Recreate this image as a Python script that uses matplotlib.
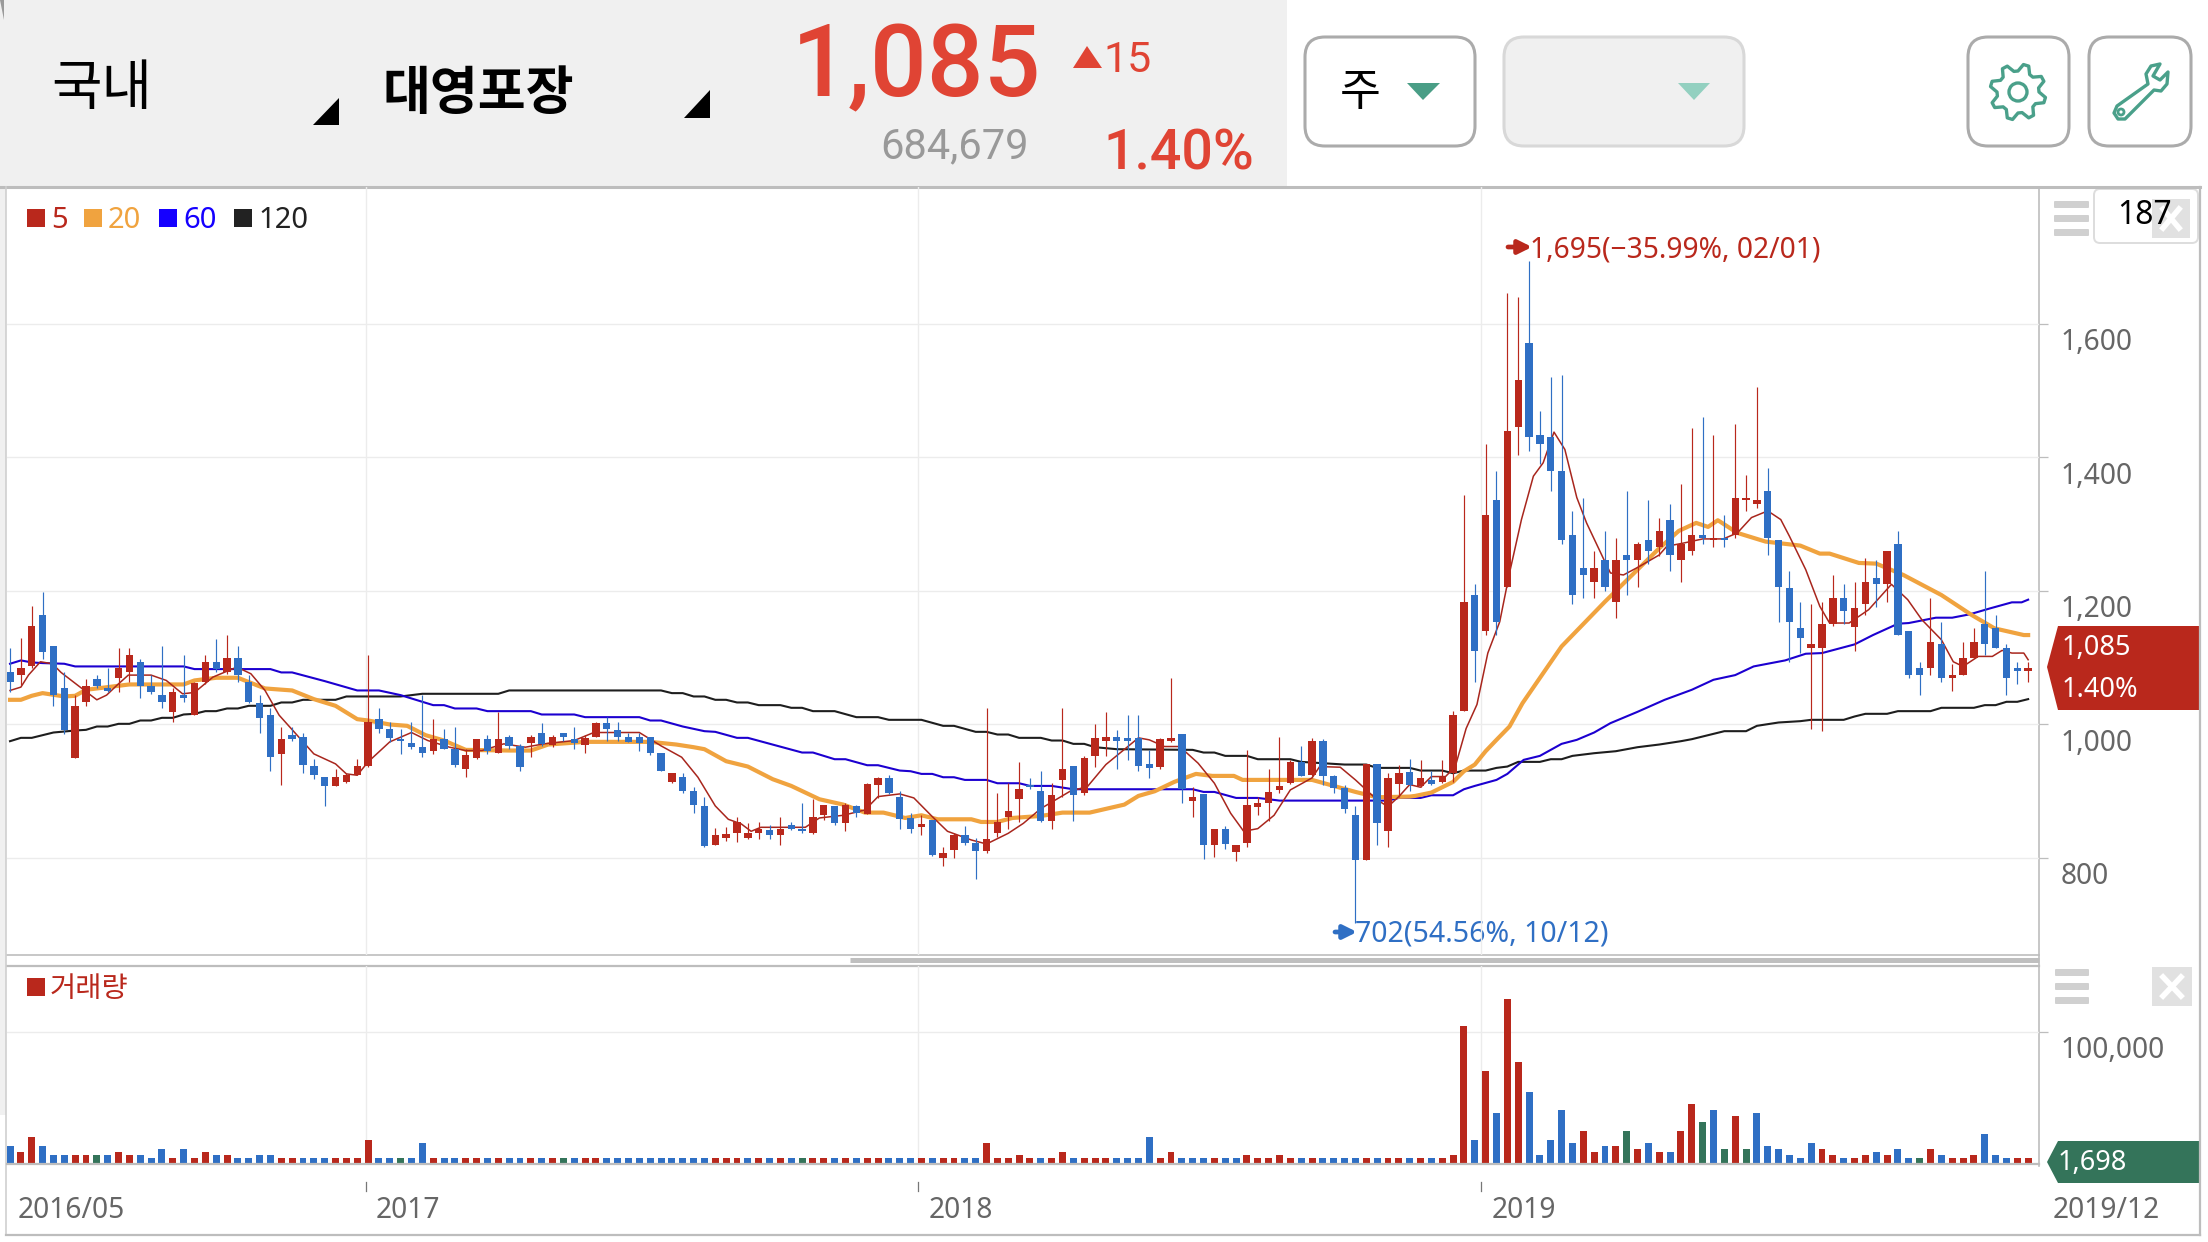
"""
Weekly candle chart screen for 대영포장, with volume panel.
"""
import matplotlib
matplotlib.use("Agg")
import matplotlib.pyplot as plt
import matplotlib.patches as mpatches
from matplotlib.transforms import ScaledTranslation
import numpy as np

plt.rcParams["font.family"] = ["Noto Sans", "Noto Sans CJK KR", "DejaVu Sans"]

# weekly candles
opens = [
    1078, 1074, 1088, 1164, 1118, 1054, 950, 1034, 1068, 1054,
    1070, 1078, 1093, 1058, 1044, 1018, 1044, 1014, 1064, 1093,
    1078, 1099, 1064, 1032, 1014, 956, 984, 982, 938, 922,
    908, 914, 924, 938, 1008, 994, 978, 973, 967, 961,
    978, 964, 934, 950, 978, 958, 981, 968, 973, 987,
    970, 987, 978, 970, 982, 1002, 992, 982, 982, 982,
    958, 914, 922, 900, 878, 820, 830, 837, 830, 838,
    842, 834, 850, 844, 838, 864, 878, 852, 878, 866,
    910, 920, 892, 860, 847, 857, 800, 812, 834, 822,
    810, 838, 862, 888, 910, 900, 856, 917, 938, 898,
    953, 976, 982, 980, 980, 941, 936, 976, 986, 886,
    896, 820, 844, 809, 822, 877, 883, 902, 912, 944,
    924, 976, 923, 905, 864, 797, 941, 840, 911, 929,
    908, 917, 914, 928, 1020, 1194, 1140, 1336, 1206, 1446,
    1571, 1434, 1430, 1380, 1284, 1234, 1214, 1246, 1184, 1254,
    1246, 1276, 1266, 1306, 1246, 1260, 1284, 1277, 1280, 1284,
    1336, 1330, 1350, 1276, 1204, 1144, 1114, 1114, 1150, 1190,
    1146, 1180, 1220, 1210, 1270, 1140, 1084, 1084, 1120, 1070,
    1074, 1100, 1150, 1144, 1114, 1084, 1080,
]
closes = [
    1064, 1084, 1148, 1108, 1044, 992, 1028, 1058, 1058, 1050,
    1084, 1104, 1058, 1048, 1034, 1048, 1040, 1062, 1093, 1083,
    1100, 1074, 1034, 1010, 951, 978, 978, 940, 924, 908,
    922, 925, 938, 1004, 993, 980, 975, 966, 958, 978,
    964, 940, 954, 978, 961, 978, 968, 936, 982, 971,
    982, 982, 972, 980, 1002, 993, 982, 974, 972, 958,
    931, 928, 900, 880, 818, 834, 836, 854, 837, 844,
    834, 844, 844, 840, 862, 880, 852, 880, 868, 911,
    920, 898, 858, 844, 851, 804, 807, 834, 822, 810,
    828, 854, 870, 904, 906, 856, 894, 933, 894, 950,
    980, 982, 976, 976, 938, 935, 978, 980, 904, 891,
    820, 844, 821, 820, 880, 883, 899, 908, 944, 923,
    976, 923, 905, 874, 797, 941, 852, 920, 927, 910,
    920, 911, 921, 1014, 1184, 1110, 1314, 1154, 1440, 1516,
    1430, 1420, 1380, 1276, 1194, 1224, 1234, 1206, 1246, 1246,
    1270, 1260, 1290, 1254, 1270, 1284, 1280, 1280, 1276, 1340,
    1340, 1336, 1280, 1206, 1154, 1130, 1120, 1150, 1190, 1170,
    1174, 1214, 1210, 1260, 1134, 1074, 1074, 1124, 1070, 1074,
    1100, 1124, 1120, 1114, 1070, 1080, 1085,
]
highs = [
    1114, 1129, 1178, 1198, 1118, 1078, 1044, 1068, 1074, 1084,
    1114, 1114, 1098, 1074, 1118, 1054, 1104, 1064, 1104, 1128,
    1134, 1118, 1074, 1044, 1024, 996, 996, 988, 948, 922,
    934, 928, 948, 1104, 1024, 1004, 994, 1004, 1044, 1008,
    994, 996, 964, 979, 984, 1018, 984, 971, 985, 1002,
    984, 988, 996, 984, 1004, 1011, 1004, 988, 988, 982,
    958, 928, 928, 906, 892, 845, 846, 861, 852, 854,
    850, 862, 854, 882, 888, 880, 878, 882, 880, 912,
    922, 924, 900, 867, 864, 857, 816, 837, 848, 830,
    1024, 898, 912, 944, 920, 930, 912, 1024, 938, 953,
    1000, 1018, 992, 1014, 1014, 962, 980, 1070, 986, 906,
    896, 844, 848, 820, 962, 892, 933, 982, 947, 968,
    980, 978, 924, 910, 878, 941, 941, 927, 940, 948,
    947, 930, 947, 1020, 1344, 1210, 1420, 1380, 1646, 1640,
    1695, 1470, 1520, 1524, 1320, 1340, 1260, 1290, 1280, 1350,
    1274, 1336, 1310, 1330, 1360, 1444, 1460, 1434, 1314, 1450,
    1374, 1505, 1384, 1276, 1230, 1184, 1180, 1184, 1224, 1210,
    1214, 1250, 1246, 1260, 1290, 1140, 1094, 1190, 1154, 1090,
    1124, 1144, 1230, 1164, 1120, 1094, 1094,
]
lows = [
    1048, 1059, 1084, 1098, 1028, 986, 950, 1028, 1054, 1048,
    1048, 1064, 1040, 1046, 1024, 1004, 1034, 1014, 1061, 1078,
    1076, 1064, 1032, 988, 931, 910, 976, 928, 918, 878,
    908, 912, 924, 936, 988, 974, 956, 964, 952, 956,
    964, 936, 922, 948, 956, 958, 964, 931, 952, 968,
    966, 976, 964, 958, 981, 976, 976, 974, 961, 954,
    931, 912, 898, 867, 816, 820, 826, 824, 828, 828,
    828, 820, 842, 838, 836, 857, 850, 840, 862, 866,
    890, 896, 844, 838, 834, 803, 788, 800, 820, 768,
    807, 832, 844, 854, 904, 854, 844, 892, 856, 894,
    937, 953, 933, 947, 930, 920, 934, 974, 882, 862,
    798, 802, 814, 796, 817, 864, 856, 898, 911, 923,
    923, 910, 898, 867, 702, 797, 820, 817, 892, 900,
    907, 910, 913, 914, 1020, 1064, 1134, 1134, 1206, 1404,
    1410, 1390, 1350, 1270, 1180, 1190, 1190, 1200, 1160, 1194,
    1206, 1240, 1252, 1230, 1214, 1254, 1270, 1266, 1266, 1280,
    1320, 1324, 1254, 1154, 1094, 1107, 994, 990, 1147, 1150,
    1110, 1164, 1176, 1184, 1134, 1070, 1044, 1074, 1064, 1050,
    1074, 1100, 1104, 1114, 1044, 1060, 1064,
]

# moving averages, read at the points where the line bends
ma5_idx = [
    0, 1, 1.7, 2.8, 3.9, 4.7, 6.3, 8, 8.9, 9.8, 10.9, 13, 14.4, 15.9, 17, 18.7, 20.9, 22.2,
    23.5, 24.8, 27, 28, 30, 31, 32, 33, 35, 37, 38.5, 40.5, 42, 43.5, 45.5, 47.5, 49.2, 52,
    53.8, 58, 60, 61.9, 63.4, 65, 66.2, 67.4, 68.3, 69.2, 73.3, 74.6, 76.8, 78.8, 80, 82,
    83.3, 85, 86.4, 88.6, 90, 92, 93.4, 95, 97.7, 99.3, 101, 102.5, 104, 105, 106.4, 107.8,
    109.5, 111, 112.5, 113.7, 115, 116.5, 118, 120, 120.7, 122.6, 124, 126, 127, 128, 129,
    130, 131, 132.3, 133.2, 134.2, 135.2, 136.2, 137.3, 138.2, 139.3, 140.4, 141.3, 142.3,
    143.3, 144.4, 145.3, 146.9, 147.5, 148.7, 150.2, 152, 152.7, 154.3, 156, 157.9, 159.2,
    160.5, 162, 163.2, 164, 165.5, 166.8, 167.7, 169.5, 171.3, 173.4, 174.9, 176.2, 178,
    179.1, 180, 181.4, 182.7, 183.6, 184.5, 185.6, 186,
]
ma5 = [
    1051, 1056, 1074, 1094, 1091, 1078, 1058, 1037, 1044, 1058, 1074, 1074, 1066, 1046, 1048, 1071, 1086, 1076,
    1051, 1014, 974, 956, 941, 926, 924, 944, 974, 988, 976, 966, 961, 961, 971, 966, 971, 976,
    988, 988, 968, 951, 921, 878, 858, 851, 840, 846, 846, 860, 864, 872, 892, 896,
    890, 862, 840, 827, 821, 837, 852, 874, 900, 907, 940, 960, 980, 977, 967, 967,
    942, 912, 867, 840, 844, 864, 902, 920, 937, 936, 917, 887, 877, 892, 910,
    906, 922, 922, 937, 994, 1030, 1107, 1154, 1227, 1307, 1372, 1392, 1438,
    1412, 1340, 1302, 1247, 1227, 1224, 1237, 1254, 1267, 1272, 1278, 1278, 1287,
    1310, 1320, 1307, 1282, 1232, 1177, 1152, 1152, 1172, 1210, 1187, 1157, 1127,
    1094, 1087, 1102, 1102, 1111, 1107, 1107, 1097,
]
ma20_idx = [
    0, 1, 2, 3, 5, 6, 7, 9, 11, 16, 17, 19, 21, 23.5, 26, 28, 30, 32, 33, 35, 36.6, 38.3, 40,
    42, 46, 48, 49.6, 53, 59, 61.4, 63, 64, 66, 68, 70.3, 72, 74.6, 76.8, 78.8, 80.5, 82.5,
    84, 85.5, 88.6, 89.5, 91, 92.4, 95, 97, 99.5, 102.7, 104, 105.5, 107.3, 109.3, 110.8,
    112.8, 113.6, 120, 122, 124, 126, 129, 129.5, 131, 133, 134, 135, 136, 137, 138.2, 139.4,
    143, 147, 152, 153.8, 155.4, 156.5, 157.4, 159.2, 161.8, 165, 166.8, 167.7, 170.4, 172,
    174.5, 178, 180.8, 182.9, 185.6, 186,
]
ma20 = [
    1037, 1037, 1043, 1047, 1042, 1043, 1052, 1056, 1060, 1060, 1066, 1070, 1070, 1054, 1051, 1038, 1028, 1008, 1006, 1000, 998, 984, 976,
    962, 961, 961, 970, 974, 974, 970, 966, 963, 945, 937, 918, 908, 888, 880, 868, 868, 860,
    864, 858, 858, 854, 854, 860, 863, 868, 868, 880, 893, 900, 914, 926, 923,
    923, 917, 917, 908, 899, 891, 892, 893, 898, 914, 930, 940, 960, 977, 997, 1032,
    1117, 1184, 1264, 1290, 1302, 1296, 1306, 1287, 1274, 1268, 1256, 1256, 1242, 1241,
    1224, 1194, 1164, 1144, 1134, 1134,
]
ma60_idx = [
    0, 1, 2, 3, 5, 6, 16, 17, 24, 25, 26, 29, 32, 34, 36, 38, 39, 40, 41, 43, 44, 48, 49, 52,
    53, 58, 59, 60, 62, 64, 65, 67, 68, 73, 74, 76, 77, 79, 80, 82, 83, 84, 85, 86, 87, 88,
    90, 91, 93, 94, 96, 98, 109, 110, 111, 113, 115, 117, 127, 128, 130, 131, 133, 134, 135,
    137, 138, 139.5, 141, 143, 144.4, 146, 147.5, 150, 152.5, 155, 157, 159, 160.7, 163.6,
    165.5, 167, 170, 171.7, 174, 175, 177.5, 179, 180.6, 182.5, 184.5, 185.4, 186,
]
ma60 = [
    1091, 1096, 1093, 1092, 1091, 1087, 1087, 1083, 1083, 1078, 1078, 1065, 1051, 1051, 1044, 1034, 1029, 1029, 1024, 1024, 1020, 1020, 1015, 1015,
    1011, 1011, 1006, 1006, 997, 990, 989, 980, 980, 958, 958, 948, 948, 939, 939, 931, 930, 926, 926, 921, 921, 917,
    917, 912, 912, 908, 908, 903, 903, 899, 899, 890, 890, 886, 886, 890, 890, 894, 894, 903, 908,
    917, 926, 947, 953, 971, 977, 988, 1002, 1019, 1037, 1052, 1067, 1074, 1087, 1096,
    1106, 1107, 1120, 1134, 1151, 1152, 1160, 1160, 1165, 1174, 1183, 1183, 1187,
]
ma120_idx = [
    0, 1, 2, 4, 6, 7, 8, 9, 10, 11, 12, 13, 14, 15, 16, 17, 18, 19, 20, 21, 22, 24, 25, 26, 27, 30,
    31, 36, 37, 38, 45, 46, 60, 61, 62, 63, 64, 65, 66, 67, 68, 69, 71, 72, 73, 74, 76, 78, 80, 81,
    84, 86, 87, 89, 90, 91, 92, 93, 95, 96, 97, 98, 99, 100, 102, 109, 110, 111, 112, 114, 115, 118,
    119, 123, 125, 126, 129, 130, 132, 133, 134, 136, 137, 138, 139, 141, 142, 143, 144, 146, 148,
    150, 152, 154, 155, 158, 160, 161, 163, 165, 166, 169, 170, 171, 173, 174, 177, 178, 181, 182,
    183, 184, 185, 186,
]
ma120 = [
    975, 980, 980, 988, 991, 992, 997, 997, 1001, 1001, 1006, 1006, 1010, 1010, 1015, 1016, 1020, 1020, 1024, 1024, 1028, 1028, 1033, 1033, 1037, 1037,
    1042, 1042, 1044, 1046, 1046, 1051, 1051, 1047, 1047, 1042, 1042, 1037, 1037, 1033, 1033, 1029, 1029, 1025, 1025, 1020, 1020, 1011, 1011, 1007,
    1007, 998, 998, 989, 989, 985, 985, 980, 980, 976, 976, 971, 971, 966, 963, 962, 958, 958, 953, 953, 948, 948,
    944, 940, 940, 935, 935, 931, 931, 927, 931, 931, 935, 937, 944, 944, 948, 948, 953, 957, 960,
    966, 970, 975, 978, 990, 990, 998, 1003, 1005, 1007, 1007, 1012, 1016, 1016, 1020, 1020, 1025, 1025, 1029,
    1029, 1034, 1034, 1038,
]

volumes = [
    13600, 9100, 20500, 13600, 6800, 6800, 6800, 6800, 6800, 6800,
    9100, 6800, 6800, 4500, 11400, 4500, 11400, 4500, 9100, 6800,
    6800, 4500, 4500, 6800, 6800, 4500, 4500, 4500, 4500, 4500,
    4500, 4500, 4500, 18200, 4500, 4500, 4500, 4500, 15900, 4500,
    4500, 4500, 4500, 4500, 4500, 4500, 4500, 4500, 4500, 4500,
    4500, 4500, 4500, 4500, 4500, 4500, 4500, 4500, 4500, 4500,
    4500, 4500, 4500, 4500, 4500, 4500, 4500, 4500, 4500, 4500,
    4500, 4500, 4500, 4500, 4500, 4500, 4500, 4500, 4500, 4500,
    4500, 4500, 4500, 4500, 4500, 4500, 4500, 4500, 4500, 4500,
    15900, 4500, 4500, 6800, 4500, 4500, 4500, 9100, 4500, 4500,
    4500, 4500, 4500, 4500, 4500, 20500, 4500, 9100, 4500, 4500,
    4500, 4500, 4500, 4500, 6800, 4500, 4500, 6800, 4500, 4500,
    4500, 4500, 4500, 4500, 4500, 4500, 4500, 4500, 4500, 4500,
    4500, 4500, 4500, 6800, 104500, 18200, 70500, 38600, 125000, 77300,
    54500, 6800, 18200, 40900, 15900, 25000, 9100, 13600, 13600, 25000,
    11400, 15900, 9100, 9100, 25000, 45500, 31800, 40900, 11400, 36400,
    11400, 38600, 13600, 11400, 6800, 4500, 15900, 11400, 6800, 4500,
    4500, 6800, 9100, 6800, 11400, 4500, 4500, 11400, 6800, 4500,
    4500, 6800, 22700, 6800, 4500, 4500, 4500,
]
# r up, b down, g the odd dark green bars
volume_kinds = (
    "brrbbbrrgb" "rrbbbrbrrb" "rbbbbrrbbb" "rrrrbbgbbr" "bbrrbrbbrb"
    "rgbrrbbbbb" "bbbbbrrrbr" "brbgrrbrbr" "rbbbrbrrbb" "rrrrrbrrbr"
    "rrbbbbrrbb" "brbbrrrrrb" "rbbbbrbrrb" "rbrrrbrbrr" "bbbbbrrbrg"
    "rbrbrrgbgr" "gbbbbbbrrb" "rrbrbbgrbr" "rrbbbrr"
)

price_ticks = [800, 1000, 1200, 1400, 1600]
volume_ticks = [100000]
year_pos = [32.8, 83.7, 135.6]
year_labels = ["2017", "2018", "2019"]

RED = "#b9281c"
BLUE = "#2f6fc4"
GREEN = "#34745a"
HEAD_RED = "#e04434"
TEAL = "#4aa08a"
GRID = "#ececec"
LINE = "#bdbdbd"
TEXT = "#666666"
KR = ["Noto Sans CJK KR", "DejaVu Sans"]


def px_axes(fig, left, top, right, bottom):
    W, H = fig.get_size_inches() * fig.dpi
    return fig.add_axes([left / W, 1 - bottom / H, (right - left) / W, (bottom - top) / H])


def button(ax, x0, y0, x1, y1, face, edge):
    ax.add_patch(mpatches.FancyBboxPatch(
        (x0 + 20, y0 + 20), x1 - x0 - 40, y1 - y0 - 40,
        boxstyle="round,pad=20,rounding_size=20",
        facecolor=face, edgecolor=edge, linewidth=2.2))


def tri(ax, pts, color):
    ax.add_patch(mpatches.Polygon(pts, closed=True, facecolor=color, edgecolor="none"))


def hamburger(ax, x0, x1, ys):
    for y in ys:
        ax.add_patch(mpatches.FancyBboxPatch(
            (x0 + 1, y + 1), x1 - x0 - 2, 5, boxstyle="round,pad=1",
            facecolor="#d0d0d0", edgecolor="none"))


def close_box(ax, x0, y0, x1, y1):
    ax.add_patch(mpatches.Rectangle((x0, y0), x1 - x0, y1 - y0, facecolor="#dcdcdc",
                                    edgecolor="none", alpha=0.85))
    ax.plot([x0 + 11, x1 - 11], [y0 + 10, y1 - 10], color="white", lw=4)
    ax.plot([x0 + 11, x1 - 11], [y1 - 10, y0 + 10], color="white", lw=4)


def draw_gear(ax, cx, cy):
    teeth = 8
    ang = np.linspace(0, 2 * np.pi, teeth * 4, endpoint=False) + np.pi / 8 - np.pi / 16
    rad = np.tile([28, 28, 21, 21], teeth)
    ax.fill(cx + rad * np.cos(ang), cy + rad * np.sin(ang), facecolor="white",
            edgecolor=TEAL, linewidth=2.4, joinstyle="round")
    ax.add_patch(mpatches.Circle((cx, cy), 9, facecolor="white", edgecolor=TEAL, linewidth=2.4))


def draw_wrench(ax):
    pts = [(2160, 64), (2151, 66), (2146, 74), (2148, 84), (2117, 106), (2114, 113),
           (2118, 119), (2125, 119), (2131, 113), (2154, 90), (2161, 91), (2167, 84),
           (2168, 72), (2160, 80), (2153, 76)]
    ax.add_patch(mpatches.Polygon(pts, closed=True, facecolor="white", edgecolor=TEAL,
                                  linewidth=2.4, joinstyle="round"))
    ax.add_patch(mpatches.Circle((2121, 112), 3, facecolor="white", edgecolor=TEAL, linewidth=2))


def draw_screen(ui):
    # header
    ui.add_patch(mpatches.Rectangle((0, 0), 1287, 187, facecolor="#f0f0f0", edgecolor="none"))
    ui.add_patch(mpatches.Rectangle((0, 187), 6, 928, facecolor="#f0f0f0", edgecolor="none"))
    tri(ui, [(0, 0), (4, 0), (4, 20)], "#9a9a9a")
    ui.text(51, 89, "국내", fontsize=39.5, color="black", va="center", family=KR)
    ui.text(383, 93, "대영포장", fontsize=37.5, color="black", va="center", fontweight="bold", family=KR)
    tri(ui, [(339, 98), (339, 125), (313, 125)], "black")
    tri(ui, [(710, 90), (710, 118), (684, 118)], "black")
    ui.text(792, 96, "1,085", fontsize=72, color=HEAD_RED, va="baseline", family="Roboto",
            fontweight="medium")
    tri(ui, [(1087, 46), (1102, 68), (1073, 68)], HEAD_RED)
    ui.text(1103, 72, "15", fontsize=31, color=HEAD_RED, va="baseline", family="Roboto")
    ui.text(880, 158, "684,679", fontsize=30, color="#999999", va="baseline", family="Roboto")
    ui.text(1103, 169, "1.40%", fontsize=40, color=HEAD_RED, va="baseline", family="Roboto",
            fontweight="medium")

    # buttons
    button(ui, 1305, 37, 1475, 146, "white", "#ababab")
    ui.text(1360, 92, "주", fontsize=32, color="black", ha="center", va="center", family=KR)
    tri(ui, [(1407, 83), (1440, 83), (1423, 100)], "#4a9e86")
    button(ui, 1504, 37, 1744, 146, "#f0f0f0", "#d8d8d8")
    tri(ui, [(1678, 83), (1710, 83), (1694, 100)], "#93d0c0")
    button(ui, 1968, 37, 2069, 146, "white", "#ababab")
    button(ui, 2089, 37, 2191, 146, "white", "#ababab")
    draw_gear(ui, 2018, 92)
    draw_wrench(ui)

    # frame lines
    ui.plot([0, 2200], [187, 187], color=LINE, lw=2.2)
    ui.plot([7, 2039], [955, 955], color=LINE, lw=1.2)
    ui.plot([7, 2039], [966, 966], color=LINE, lw=1.6)
    ui.plot([850, 2039], [959.5, 959.5], color="#bfbfbf", lw=3.6, solid_capstyle="butt")
    ui.plot([2039, 2039], [187, 1166], color=LINE, lw=1.2)
    ui.plot([2200, 2200], [187, 1235], color=LINE, lw=1.6)
    ui.plot([6, 6], [187, 1235], color="#cfcfcf", lw=1.2)
    ui.plot([6, 2200], [1235, 1235], color=LINE, lw=1.6)

    # side widgets, main panel
    hamburger(ui, 2054, 2089, [201, 215, 229])
    ui.add_patch(mpatches.FancyBboxPatch((2100, 195), 92, 42, boxstyle="round,pad=6",
                                         facecolor="white", edgecolor="#dddddd", linewidth=1.4))
    close_box(ui, 2152, 199, 2190, 238)
    ui.text(2145, 216, "187", fontsize=23, color="black", ha="center", va="center")

    # side widgets, volume panel
    hamburger(ui, 2055, 2089, [969, 983, 997])
    close_box(ui, 2152, 967, 2192, 1006)

    # price and volume tags
    tri(ui, [(2047, 667), (2058, 626), (2200, 626), (2200, 710), (2058, 710)], RED)
    ui.text(2062, 648, "1,085", fontsize=19.5, color="white", va="center")
    ui.text(2062, 690, "1.40%", fontsize=19.5, color="white", va="center")
    tri(ui, [(2047, 1162), (2058, 1141), (2200, 1141), (2200, 1183), (2058, 1183)], GREEN)
    ui.text(2058, 1163, "1,698", fontsize=19.5, color="white", va="center")

    # legends
    legend = [(27, 51, "5", RED), (84, 108, "20", "#f0a33f"), (159, 183, "60", "#1500ff"), (234, 258, "120", "#222222")]
    for sx, tx, label, color in legend:
        ui.add_patch(mpatches.Rectangle((sx, 209), 18, 18, facecolor=color, edgecolor="none"))
        ui.text(tx, 220, label, fontsize=21, color=color, va="center")
    ui.add_patch(mpatches.Rectangle((27, 978), 18, 18, facecolor=RED, edgecolor="none"))
    ui.text(50, 989, "거래량", fontsize=20.5, color=RED, va="center", family=KR)

    # date ends
    ui.text(18, 1210, "2016/05", fontsize=20.3, color=TEXT, va="center")
    ui.text(2053, 1210, "2019/12", fontsize=20.3, color=TEXT, va="center")

    # high and low notes
    ui.annotate("", xy=(1532, 247), xytext=(1508, 247),
                arrowprops=dict(arrowstyle="-|>", color=RED, lw=3.4, mutation_scale=20, shrinkA=0, shrinkB=0))
    ui.text(1530, 250, "1,695(\u221235.99%, 02/01)", fontsize=20.3, color=RED, va="center")
    ui.annotate("", xy=(1357, 932), xytext=(1335, 932),
                arrowprops=dict(arrowstyle="-|>", color=BLUE, lw=3.4, mutation_scale=20, shrinkA=0, shrinkB=0))
    ui.text(1355, 934, "702(54.56%, 10/12)", fontsize=20.5, color=BLUE, va="center")


def style_panel(ax, ticks, labels):
    ax.set_facecolor("none")
    for side in ax.spines.values():
        side.set_visible(False)
    ax.yaxis.tick_right()
    ax.set_yticks(ticks)
    ax.set_yticklabels(labels, fontsize=20.3, color=TEXT, va="top")
    ax.tick_params(axis="y", length=6.5, width=0.9, color=LINE, pad=9)
    # the labels sit a little under their grid line
    drop = ScaledTranslation(0, -3 / 72, fig.dpi_scale_trans)
    for label in ax.get_yticklabels():
        label.set_transform(label.get_transform() + drop)
    ax.set_xticks(year_pos)
    ax.tick_params(axis="x", length=0, labelbottom=False)
    ax.grid(True, color=GRID, lw=1.0)
    ax.set_axisbelow(True)
    ax.set_xlim(-0.28, 187.0)


fig = plt.figure(figsize=(22.08, 12.42), dpi=100, facecolor="white")

ui = px_axes(fig, 0, 0, 2208, 1242)
ui.set_xlim(0, 2208)
ui.set_ylim(1242, 0)
ui.axis("off")
draw_screen(ui)

# candles
ax = px_axes(fig, 7, 187, 2039, 955)
ax.set_ylim(654.7, 1805.2)
style_panel(ax, price_ticks, [f"{t:,}" for t in price_ticks])

x = np.arange(len(opens))
op, cl = np.array(opens), np.array(closes)
colors = [RED if c >= o else BLUE for o, c in zip(opens, closes)]

ax.plot(ma120_idx, ma120, color="#1e1e1e", lw=1.5, zorder=2)
ax.plot(ma60_idx, ma60, color="#1c00d0", lw=1.5, zorder=2)
ax.plot(ma20_idx, ma20, color="#f0a33f", lw=3.0, zorder=2)
ax.plot(ma5_idx, ma5, color="#a8261d", lw=1.1, zorder=3)

ax.vlines(x, lows, highs, colors=colors, lw=0.85, zorder=4)
ax.bar(x, np.maximum(np.abs(cl - op), 1), bottom=np.minimum(op, cl), width=0.68,
       color=colors, linewidth=0, zorder=5)

# volume
vax = px_axes(fig, 7, 966, 2039, 1164)
vax.set_ylim(0, 150000)
style_panel(vax, volume_ticks, ["100,000"])
kind_color = {"r": RED, "b": BLUE, "g": GREEN}
vax.bar(x, volumes, width=0.64, color=[kind_color[k] for k in volume_kinds], linewidth=0, zorder=3)
vax.plot([-0.28, 187], [0, 0], color=LINE, lw=1.6, clip_on=False, zorder=4)

for pos, label in zip(year_pos, year_labels):
    vax.plot([pos, pos], [-0.09, -0.137], transform=vax.get_xaxis_transform(),
             color="#777777", lw=0.9, clip_on=False)
    vax.annotate(label, (pos, 0), xytext=(10, -46), textcoords="offset pixels",
                 fontsize=20.3, color=TEXT, ha="left", va="center", annotation_clip=False)

fig.savefig("out.png", dpi=100, facecolor="white")
plt.close(fig)
